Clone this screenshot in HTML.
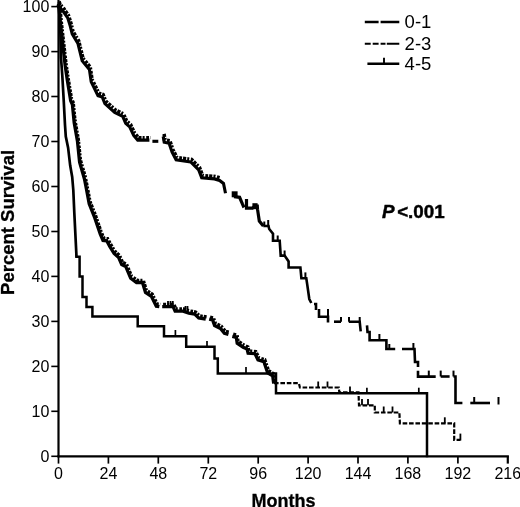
<!DOCTYPE html>
<html lang="en"><head><meta charset="utf-8"><title>Survival</title>
<style>html,body{margin:0;padding:0;background:#fff;overflow:hidden}body{width:520px;height:507px}</style>
</head><body>
<svg width="520" height="507" viewBox="0 0 520 507" style="display:block">
<rect width="520" height="507" fill="#fff"/>
<g fill="none" stroke="#000" stroke-linejoin="miter" stroke-linecap="butt">
<path d="M58.5,0V457.3" stroke-width="2.2"/>
<path d="M57.4,456.3H508.9" stroke-width="2.2"/>
<path d="M51.3,456.3H58.5" stroke-width="1.6"/>
<path d="M51.3,411.3H58.5" stroke-width="1.6"/>
<path d="M51.3,366.4H58.5" stroke-width="1.6"/>
<path d="M51.3,321.4H58.5" stroke-width="1.6"/>
<path d="M51.3,276.4H58.5" stroke-width="1.6"/>
<path d="M51.3,231.5H58.5" stroke-width="1.6"/>
<path d="M51.3,186.5H58.5" stroke-width="1.6"/>
<path d="M51.3,141.5H58.5" stroke-width="1.6"/>
<path d="M51.3,96.5H58.5" stroke-width="1.6"/>
<path d="M51.3,51.6H58.5" stroke-width="1.6"/>
<path d="M51.3,6.6H58.5" stroke-width="1.6"/>
<path d="M58.5,456.3V463.6" stroke-width="1.7"/>
<path d="M108.4,456.3V463.6" stroke-width="1.7"/>
<path d="M158.3,456.3V463.6" stroke-width="1.7"/>
<path d="M208.3,456.3V463.6" stroke-width="1.7"/>
<path d="M258.2,456.3V463.6" stroke-width="1.7"/>
<path d="M308.1,456.3V463.6" stroke-width="1.7"/>
<path d="M358.0,456.3V463.6" stroke-width="1.7"/>
<path d="M407.9,456.3V463.6" stroke-width="1.7"/>
<path d="M457.9,456.3V463.6" stroke-width="1.7"/>
<path d="M507.8,456.3V463.6" stroke-width="2.2"/>
<g stroke-width="3.1" transform="translate(-0.3,0.9)"><path d="M58.5,3.0 L59.5,6.0 L63.5,10.5 L68.0,17.0 L70.5,25.0 L72.5,33.0 L78.2,42.5 L82.5,60.0 L89.7,68.5 L91.5,81.0 L98.3,94.7 L102.5,96.0 L105.2,102.7 L115.0,111.5 L123.0,115.5 L126.0,122.4 L130.0,126.0 L134.0,134.5 L138.0,139.2 L149.7,139.2"/><path d="M152.7,140.4 L158.6,140.4"/><path d="M163.5,135.5 L164.5,141.4 L169.4,142.4 L172.4,151.3 L176.4,159.0 L191.0,161.0 L195.0,165.0 L199.0,169.0 L202.0,177.0 L214.8,178.0 L219.9,179.6 L223.8,182.5 L225.8,192.4"/></g>
<g stroke-width="3.4" stroke-dasharray="3.2 1.1 2 1.6 2.8 1" transform="translate(0.6,-1.6)"><path d="M58.5,3.0 L59.5,6.0 L63.5,10.5 L68.0,17.0 L70.5,25.0 L72.5,33.0 L78.2,42.5 L82.5,60.0 L89.7,68.5 L91.5,81.0 L98.3,94.7 L102.5,96.0 L105.2,102.7 L115.0,111.5 L123.0,115.5 L126.0,122.4 L130.0,126.0 L134.0,134.5 L138.0,139.2 L149.7,139.2"/><path d="M163.5,135.5 L164.5,141.4 L169.4,142.4 L172.4,151.3 L176.4,159.0 L191.0,161.0 L195.0,165.0 L199.0,169.0 L202.0,177.0 L214.8,178.0 L219.9,179.6"/></g>
<path d="M231.7,194.3 L237.6,194.3" stroke-width="6"/>
<g stroke-width="3.2"><path d="M234.0,196.6 L239.6,197.3 L242.5,204.2 L244.0,207.5"/><path d="M246.5,199.0 L246.5,208.2 L252.4,208.2 L254.8,206.2 L257.3,206.2 L257.5,209.2 L259.3,221.0 L263.3,226.0"/></g>
<path d="M252.4,206.2H257.6" stroke-width="6"/>
<g stroke-width="2.6"><path d="M263.3,226.0 L268.5,226.0 L269.2,229.0 L273.0,233.8 L273.0,240.7 L279.7,240.8 L280.7,255.6 L284.6,255.6 L288.6,261.5 L288.6,267.5 L300.4,267.5 L301.4,278.3 L306.3,278.3 L307.3,285.0 L309.3,299.0 L311.3,303.0"/><path d="M314.0,304.0 L316.0,304.0 L316.0,310.0"/><path d="M319.0,309.0 L319.0,316.8 L328.0,316.8 L328.0,322.5"/><path d="M334.0,321.7 L341.0,321.7"/><path d="M348.8,321.7 L359.7,321.7 L360.7,331.3"/><path d="M367.0,325.4 L367.5,332.0 L369.6,332.0 L369.6,340.2 L386.4,340.2 L386.4,349.0 L395.2,349.0"/><path d="M402.0,349.0 L414.5,349.0 L415.0,362.0 L418.0,362.0 L418.0,367.0"/><path d="M418.0,370.7 L418.0,376.6 L435.7,376.6"/><path d="M440.7,376.5 L449.6,376.5"/><path d="M453.5,376.5 L455.5,376.5 L455.5,403.0 L462.4,403.0"/><path d="M470.3,403.0 L490.0,403.0"/></g>
<path d="M163.8,135.0V141.0" stroke-width="2.0"/><path d="M264.3,221.5V226.0" stroke-width="2.0"/><path d="M268.2,220.0V227.0" stroke-width="2.0"/><path d="M277.7,235.5V240.8" stroke-width="2.0"/><path d="M284.6,250.5V255.6" stroke-width="2.0"/><path d="M305.4,272.4V278.3" stroke-width="2.0"/><path d="M328.0,309.0V316.8" stroke-width="2.0"/><path d="M341.0,317.0V321.7" stroke-width="2.0"/><path d="M349.0,317.0V321.7" stroke-width="2.0"/><path d="M359.7,317.0V321.7" stroke-width="2.0"/><path d="M379.4,334.0V340.2" stroke-width="2.0"/><path d="M389.3,344.0V349.0" stroke-width="2.0"/><path d="M413.4,343.0V349.0" stroke-width="2.0"/><path d="M428.8,370.6V376.6" stroke-width="2.0"/><path d="M440.7,370.6V376.5" stroke-width="2.0"/><path d="M453.5,370.6V376.5" stroke-width="2.0"/><path d="M474.2,397.0V403.0" stroke-width="2.0"/><path d="M498.5,397.0V404.5" stroke-width="2.0"/>
<g stroke-width="3.3" transform="translate(-0.3,0.8)"><path d="M58.5,4.0 L59.5,9.0 L61.0,25.0 L65.5,65.0 L67.7,80.0 L71.0,100.0 L72.7,103.7 L74.5,122.0 L77.8,140.7 L79.9,161.4 L84.7,178.0 L86.1,185.0 L89.5,203.0 L95.0,216.8 L100.6,233.3 L103.3,239.6 L107.0,240.0 L110.2,245.8 L114.4,252.7 L119.0,256.8 L122.0,263.7 L126.0,265.6 L131.0,277.5 L136.8,281.7 L142.8,281.7 L145.8,291.6 L151.7,295.5 L156.6,305.4 L159.6,305.8"/><path d="M162.5,305.8 L173.4,305.8 L175.4,310.3 L183.3,310.3 L189.2,312.3 L195.0,313.3 L199.0,317.2 L206.0,318.2"/><path d="M209.5,318.4 L212.9,319.2 L214.9,324.7 L220.8,327.6 L224.7,332.5 L228.7,333.5"/><path d="M232.6,335.5 L236.6,336.5 L237.5,342.4 L243.5,346.4 L247.4,348.3 L248.4,352.3 L255.3,352.9 L258.3,359.0 L264.2,361.0 L268.0,372.0 L273.0,375.0 L274.0,382.8"/></g>
<g stroke-width="3.2" stroke-dasharray="3 1.2 2 1.6 2.6 1" transform="translate(0.6,-1.4)"><path d="M58.5,4.0 L59.5,9.0 L61.0,25.0 L65.5,65.0 L67.7,80.0 L71.0,100.0 L72.7,103.7 L74.5,122.0 L77.8,140.7 L79.9,161.4 L84.7,178.0 L86.1,185.0 L89.5,203.0 L95.0,216.8 L100.6,233.3 L103.3,239.6 L107.0,240.0 L110.2,245.8 L114.4,252.7 L119.0,256.8 L122.0,263.7 L126.0,265.6 L131.0,277.5 L136.8,281.7 L142.8,281.7 L145.8,291.6 L151.7,295.5 L156.6,305.4 L159.6,305.8"/><path d="M162.5,305.8 L173.4,305.8 L175.4,310.3 L183.3,310.3 L189.2,312.3 L195.0,313.3 L199.0,317.2 L206.0,318.2"/><path d="M209.5,318.4 L212.9,319.2 L214.9,324.7 L220.8,327.6 L224.7,332.5 L228.7,333.5"/><path d="M232.6,335.5 L236.6,336.5 L237.5,342.4 L243.5,346.4 L247.4,348.3 L248.4,352.3 L255.3,352.9 L258.3,359.0 L264.2,361.0 L268.0,372.0 L273.0,375.0 L274.0,382.8"/></g>
<path d="M274.0,383.2 L298.9,383.2 L299.9,387.5 L338.8,387.5 L339.3,392.4 L358.5,392.4 L359.0,405.3 L374.8,405.3 L374.8,412.5 L399.4,412.5 L399.9,423.3 L454.2,423.3 L454.2,439.8 L460.4,439.8" stroke-width="2.2" stroke-dasharray="4.6 1.8"/>
<path d="M168.0,301.0V306.0" stroke-width="1.8"/><path d="M170.5,301.0V306.0" stroke-width="1.8"/><path d="M172.8,301.0V306.0" stroke-width="1.8"/><path d="M185.5,306.0V311.0" stroke-width="1.8"/><path d="M187.5,306.0V312.0" stroke-width="1.8"/><path d="M318.2,381.5V387.5" stroke-width="1.8"/><path d="M327.5,381.5V387.5" stroke-width="1.8"/><path d="M350.0,386.5V392.4" stroke-width="1.8"/><path d="M362.0,399.0V405.3" stroke-width="1.8"/><path d="M368.0,399.0V405.3" stroke-width="1.8"/><path d="M383.7,406.5V412.5" stroke-width="1.8"/><path d="M392.5,406.5V412.5" stroke-width="1.8"/><path d="M444.8,417.3V423.3" stroke-width="1.8"/><path d="M460.4,433.6V440.5" stroke-width="1.8"/>
<path d="M58.5,4.0 L59.5,9.0 L60.3,30.0 L61.0,57.8 L62.3,75.5 L63.8,102.0 L65.0,125.0 L65.8,136.6 L68.1,147.6 L70.2,165.6 L72.2,177.0 L73.3,190.0 L74.3,212.6 L76.4,254.7 L76.4,256.8" stroke-width="2.7"/>
<path d="M76.4,256.8 L79.6,256.8 L79.6,276.5 L82.5,276.5 L82.5,297.0 L86.5,297.0 L86.5,307.0 L92.4,307.0 L92.4,316.5 L137.7,316.5 L137.7,326.3 L164.0,326.3 L164.0,336.3 L186.2,336.3 L186.2,346.8 L214.5,346.8 L214.5,358.4 L217.8,358.4 L217.8,373.4 L276.0,373.4 L276.0,393.3 L427.0,393.3 L427.0,456.0" stroke-width="2.5" stroke-linecap="square"/>
<path d="M175.4,330.0V336.3" stroke-width="1.7"/><path d="M207.0,341.0V346.8" stroke-width="1.7"/><path d="M246.0,367.0V373.4" stroke-width="1.7"/><path d="M366.9,387.7V393.3" stroke-width="1.7"/><path d="M418.8,387.7V393.3" stroke-width="1.7"/>
<path d="M364.8,22H378.6M380.6,22H399.3" stroke-width="2.7"/>
<path d="M364.8,43.8H370.7M372.7,43.8H378.6M380.6,43.8H385.5M386.8,43.8H399.3" stroke-width="1.9"/>
<path d="M367.4,63.7H399.3" stroke-width="2.4"/><path d="M384,57.8V63.7" stroke-width="1.9"/>
</g>
<g font-family="'Liberation Sans', sans-serif" fill="#000">
<g font-size="16" text-anchor="end">
<text x="49.3" y="461.8">0</text>
<text x="49.3" y="416.8">10</text>
<text x="49.3" y="371.9">20</text>
<text x="49.3" y="326.9">30</text>
<text x="49.3" y="281.9">40</text>
<text x="49.3" y="237.0">50</text>
<text x="49.3" y="192.0">60</text>
<text x="49.3" y="147.0">70</text>
<text x="49.3" y="102.0">80</text>
<text x="49.3" y="57.1">90</text>
<text x="49.3" y="12.1">100</text>
</g>
<g font-size="16" text-anchor="middle">
<text x="58.5" y="479">0</text>
<text x="108.4" y="479">24</text>
<text x="158.3" y="479">48</text>
<text x="208.3" y="479">72</text>
<text x="258.2" y="479">96</text>
<text x="308.1" y="479">120</text>
<text x="358.0" y="479">144</text>
<text x="407.9" y="479">168</text>
<text x="457.9" y="479">192</text>
<text x="507.8" y="479">216</text>
</g>
<g font-size="18.5"><text x="404.6" y="28">0-1</text><text x="404.6" y="49.6">2-3</text><text x="404.6" y="70.2">4-5</text></g>
<text x="382" y="217.7" font-size="18.8" font-weight="bold" stroke="#000" stroke-width="0.45"><tspan font-style="italic">P</tspan><tspan dx="2.6">&lt;.001</tspan></text>
<text x="283.5" y="507.4" font-size="18" stroke="#000" stroke-width="0.3" font-weight="bold" text-anchor="middle">Months</text>
<text transform="translate(13.6,222.4) rotate(-90)" font-size="18.5" font-weight="bold" text-anchor="middle" stroke="#000" stroke-width="0.3">Percent Survival</text>
</g></svg>
</body></html>
